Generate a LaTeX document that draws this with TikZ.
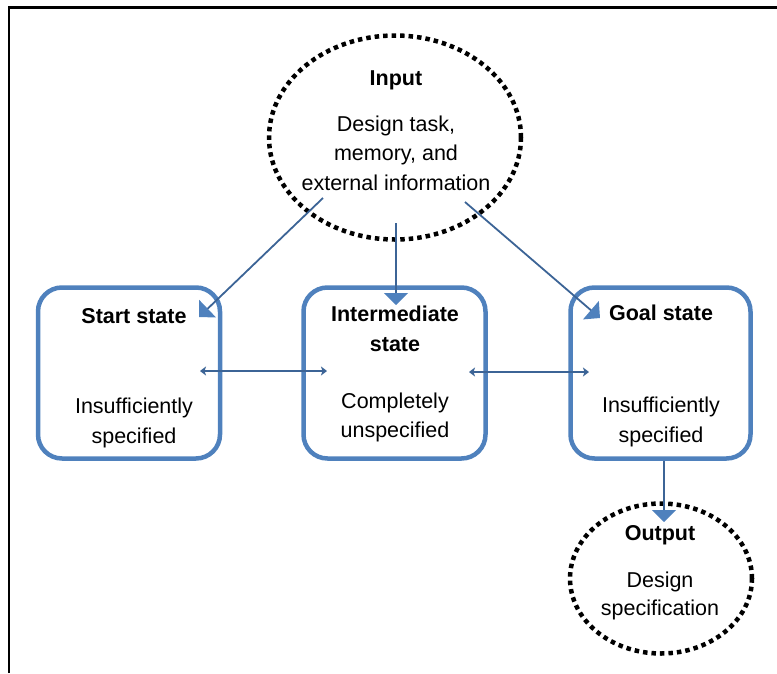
\documentclass[tikz,border=0pt]{standalone}
\usepackage{fontspec}
\setmainfont{Liberation Sans}
\usetikzlibrary{arrows.meta,shapes.geometric}
\definecolor{boxblue}{HTML}{4F81BD}
\definecolor{linkblue}{HTML}{3C6496}

\begin{document}
\begin{tikzpicture}[x=1pt,y=-1pt,
  statebox/.style={draw=boxblue, line width=4.5pt, rounded corners=24pt,
    rectangle, inner sep=0pt},
  cloud/.style={draw=black, ellipse, line width=4.5pt, dash pattern=on 4.5pt off 4pt,
    inner sep=0pt},
  txt/.style={font=\fontsize{21.5}{26}\selectfont, inner sep=0pt, anchor=base},
  ttl/.style={txt, font=\fontsize{21.5}{26}\selectfont\bfseries},
  flow/.style={draw=linkblue, line width=1.8pt,
    -{Triangle[length=12pt,width=24pt,fill=boxblue,color=boxblue]}},
  swap/.style={draw=linkblue, line width=1.8pt,
    {Stealth[length=6pt,width=9pt,inset=1.5pt]}-{Stealth[length=6pt,width=9pt,inset=1.5pt]}}
]
\useasboundingbox (0,0) rectangle (777,673);

% frame edges
\draw[line width=2.4pt] (9,673) -- (9,7.5) -- (777,7.5);

% states
\node[statebox, minimum width=182pt, minimum height=171pt] (start) at (129,373) {};
\node[statebox, minimum width=182pt, minimum height=171pt] (mid) at (394.5,373) {};
\node[statebox, minimum width=180pt, minimum height=171pt] (goal) at (660.5,373) {};

% input and output
\node[cloud, minimum width=252pt, minimum height=204pt] (input) at (395,137.5) {};
\node[cloud, minimum width=182pt, minimum height=150pt] (output) at (661,578.5) {};

% labels
\node[ttl] (inT) at (396,85) {Input};
\node[txt] (inL1) at (396,131) {Design task,};
\node[txt] (inL2) at (396,160) {memory, and};
\node[txt] (inL3) at (396,190) {external information};

\node[ttl] (startT) at (134,323) {Start state};
\node[txt] (startL1) at (134,413) {Insufficiently};
\node[txt] (startL2) at (134,443) {specified};

\node[ttl] (midT1) at (395,321) {Intermediate};
\node[ttl] (midT2) at (395,351) {state};
\node[txt] (midL1) at (395,408) {Completely};
\node[txt] (midL2) at (395,437) {unspecified};

\node[ttl] (goalT) at (661,320) {Goal state};
\node[txt] (goalL1) at (661,412) {Insufficiently};
\node[txt] (goalL2) at (661,442) {specified};

\node[ttl] (outT) at (660,540) {Output};
\node[txt] (outL1) at (660,587) {Design};
\node[txt] (outL2) at (660,615) {specification};

% connector end points
\coordinate (inA) at (323,198);
\coordinate (inB) at (396,223);
\coordinate (inC) at (465,202);
\coordinate (startIn) at (199,317);
\coordinate (midIn) at (396,305);
\coordinate (goalIn) at (600,318);
\coordinate (goalOut) at (664,461);
\coordinate (outIn) at (664,522);
\coordinate (startR) at (200,371);
\coordinate (midL) at (327,371);
\coordinate (midR) at (469,372);
\coordinate (goalL) at (589,372);

% connectors
\draw[flow] (inA) -- (startIn);
\draw[flow] (inB) -- (midIn);
\draw[flow] (inC) -- (goalIn);
\draw[flow] (goalOut) -- (outIn);
\draw[swap] (startR) -- (midL);
\draw[swap] (midR) -- (goalL);
\end{tikzpicture}
\end{document}
